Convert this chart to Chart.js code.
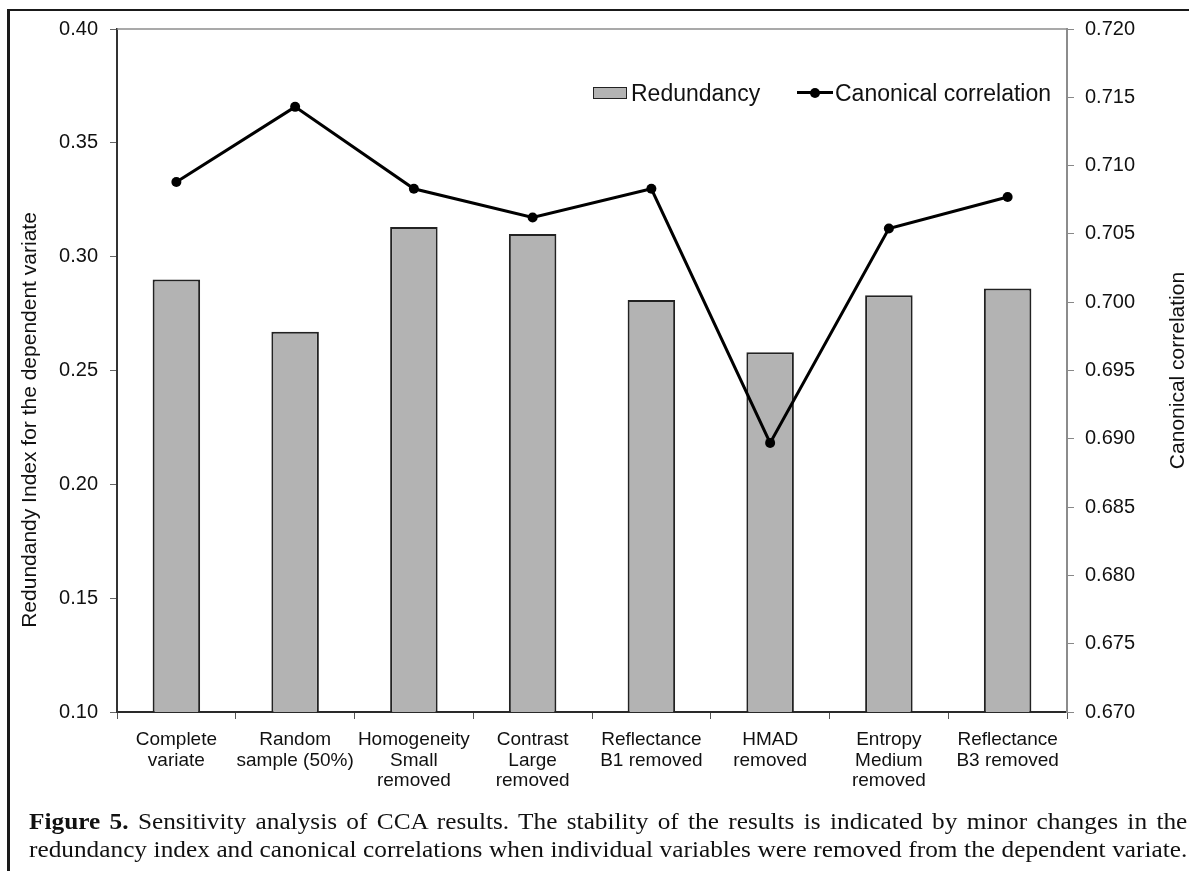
<!DOCTYPE html>
<html>
<head>
<meta charset="utf-8">
<script src="https://cdn.jsdelivr.net/npm/chart.js@4.4.1/dist/chart.umd.min.js"></script>
<style>
  body { margin: 0; background: #fff; }
  #wrap { position: relative; width: 1189px; height: 871px; overflow: hidden; background: #fff; }
  #ccaChart { position: absolute; left: 0; top: 0; }
  .frame { position: absolute; left: 7px; top: 9px; width: 1300px; height: 900px;
           border-left: 3px solid #1a1a1a; border-top: 2px solid #1a1a1a; }
  .legend { position: absolute; top: 80px; font: 23px "Liberation Sans", Arial, sans-serif; color: #111; line-height: 26px; }
  .legend .box { position: absolute; left: 593px; top: 7px; width: 32px; height: 10px; background: #b3b3b3; border: 1px solid #222; }
  .legend .lbl1 { position: absolute; left: 631px; top: 0; white-space: nowrap; }
  .legend .ln { position: absolute; left: 797px; top: 11px; width: 36px; height: 3px; background: #000; }
  .legend .dot { position: absolute; left: 810px; top: 8px; width: 10px; height: 10px; border-radius: 50%; background: #000; }
  .legend .lbl2 { position: absolute; left: 835px; top: 0; white-space: nowrap; }
  .caption { position: absolute; left: 29px; width: 1053px; font: 23px "Liberation Serif", "Times New Roman", serif;
             color: #111; line-height: 28px; text-align: justify; text-align-last: justify; white-space: nowrap;
             transform: scaleX(1.1); transform-origin: 0 0; }
</style>
</head>
<body>
<div id="wrap">
  <canvas id="ccaChart" width="1189" height="800"></canvas>
  <div class="frame"></div>
  <div class="legend" id="legend"></div>
  <div class="caption" style="top:808px"><b>Figure 5.</b> Sensitivity analysis of CCA results. The stability of the results is indicated by minor changes in the</div>
  <div class="caption" style="top:836px">redundancy index and canonical correlations when individual variables were removed from the dependent variate.</div>
</div>
<script>
// data
const categories = [
    ["Complete", "variate"],
    ["Random", "sample (50%)"],
    ["Homogeneity", "Small", "removed"],
    ["Contrast", "Large", "removed"],
    ["Reflectance", "B1 removed"],
    ["HMAD", "removed"],
    ["Entropy", "Medium", "removed"],
    ["Reflectance", "B3 removed"]
];
const redundancy = [0.290, 0.267, 0.313, 0.310, 0.281, 0.258, 0.283, 0.286];
const canonical = [0.7088, 0.7143, 0.7083, 0.7062, 0.7083, 0.6897, 0.7054, 0.7077];
const seriesNames = ["Redundancy", "Canonical correlation"];
const leftTitle = "Redundandy Index for the dependent variate";
const rightTitle = "Canonical correlation";

Chart.defaults.font.family = '"Liberation Sans", Arial, sans-serif';
Chart.defaults.color = "#1a1a1a";

// legend (html)
document.getElementById("legend").innerHTML =
    '<div class="box"></div><div class="lbl1">' + seriesNames[0] + '</div>' +
    '<div class="ln"></div><div class="dot"></div><div class="lbl2">' + seriesNames[1] + '</div>';

// axis titles both read bottom-to-top, plus the grey plot-area top edge
const extras = {
    id: "extras",
    afterDraw(chart) {
        const ctx = chart.ctx;
        const a = chart.chartArea;
        ctx.save();
        ctx.strokeStyle = "#8c8c8c";
        ctx.lineWidth = 1.5;
        ctx.beginPath();
        ctx.moveTo(a.left, a.top);
        ctx.lineTo(a.right, a.top);
        ctx.stroke();

        ctx.fillStyle = "#111";
        ctx.font = '21px "Liberation Sans", Arial, sans-serif';
        ctx.textAlign = "center";
        ctx.textBaseline = "middle";
        ctx.translate(30, 420);
        ctx.rotate(-Math.PI / 2);
        ctx.fillText(leftTitle, 0, 0);
        ctx.restore();

        ctx.save();
        ctx.fillStyle = "#111";
        ctx.font = '21px "Liberation Sans", Arial, sans-serif';
        ctx.textAlign = "center";
        ctx.textBaseline = "middle";
        ctx.translate(1178, (a.top + a.bottom) / 2);
        ctx.rotate(-Math.PI / 2);
        ctx.fillText(rightTitle, 0, 0);
        ctx.restore();
    }
};

const ctx = document.getElementById("ccaChart").getContext("2d");
const ccaChart = new Chart(ctx, {
    type: "bar",
    data: {
        labels: categories,
        datasets: [
            {
                type: "line",
                label: seriesNames[1],
                data: canonical,
                yAxisID: "yR",
                borderColor: "#000",
                backgroundColor: "#000",
                borderWidth: 3,
                pointRadius: 5,
                pointBackgroundColor: "#000",
                pointBorderWidth: 0,
                tension: 0,
                order: 0
            },
            {
                type: "bar",
                label: seriesNames[0],
                data: redundancy,
                yAxisID: "yL",
                backgroundColor: "#b3b3b3",
                borderColor: "#222",
                borderWidth: 2,
                categoryPercentage: 1,
                barPercentage: 0.4,
                order: 1
            }
        ]
    },
    options: {
        responsive: false,
        animation: false,
        layout: { padding: { top: 29, left: 0, right: 0, bottom: 0 } },
        plugins: {
            legend: { display: false },
            tooltip: { enabled: false }
        },
        scales: {
            x: {
                offset: true,
                grid: { offset: true, drawOnChartArea: false, drawTicks: true, tickLength: 7, tickColor: "#555" },
                border: { display: true, color: "#2a2a2a", width: 2 },
                ticks: {
                    font: { size: 19, lineHeight: 1.1 },
                    color: "#111",
                    padding: 10,
                    maxRotation: 0,
                    autoSkip: false
                },
                afterFit(scale) { scale.height = 88; }
            },
            yL: {
                position: "left",
                min: 0.10,
                max: 0.40,
                grid: { drawOnChartArea: false, drawTicks: true, tickLength: 7, tickColor: "#666" },
                border: { display: true, color: "#333", width: 2 },
                ticks: {
                    stepSize: 0.05,
                    font: { size: 20 },
                    color: "#111",
                    padding: 12,
                    callback: (v) => v.toFixed(2)
                },
                afterFit(scale) { scale.width = 117; }
            },
            yR: {
                position: "right",
                min: 0.670,
                max: 0.720,
                grid: { drawOnChartArea: false, drawTicks: true, tickLength: 7, tickColor: "#888" },
                border: { display: true, color: "#8c8c8c", width: 2 },
                ticks: {
                    stepSize: 0.005,
                    font: { size: 20 },
                    color: "#111",
                    padding: 11,
                    callback: (v) => v.toFixed(3)
                },
                afterFit(scale) { scale.width = 122; }
            }
        }
    },
    plugins: [extras]
});
</script>
</body>
</html>
